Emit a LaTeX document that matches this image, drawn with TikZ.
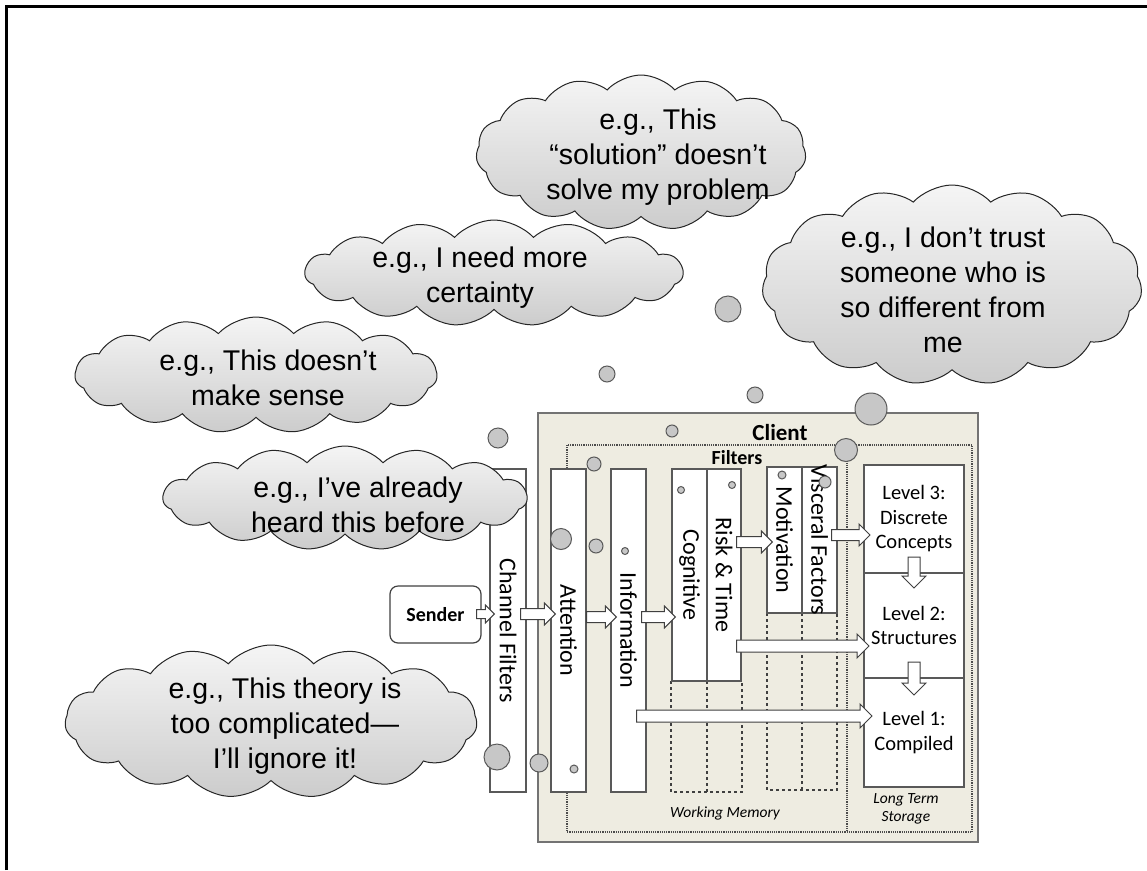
\documentclass[tikz,border=0pt]{standalone}
\usepackage{fontspec}
\usetikzlibrary{calc, positioning, shapes.symbols}

\newfontfamily\cloudfont{Liberation Sans}
\newfontfamily\boxfont{Carlito}
\definecolor{clientbg}{HTML}{EEECE1}

\begin{document}
\begin{tikzpicture}[x=1pt, y=-1pt,
  thought/.style = {cloud, cloud puffs=15, cloud puff arc=95, cloud ignores aspect,
    draw=black!85, line width=1pt, top color=black!4, bottom color=black!20, inner sep=0pt},
  thoughttext/.style = {align=center, font=\cloudfont\fontsize{28.5}{35}\selectfont},
  bubble/.style = {circle, draw=black!65, fill=black!22, line width=1pt, inner sep=0pt},
  colbox/.style = {draw=black!65, fill=white, line width=1.2pt, inner sep=0pt},
  coltext/.style = {rotate=-90, font=\boxfont\fontsize{24}{28}\selectfont},
  levelbox/.style = {draw=black!65, fill=white, line width=1.2pt, outer sep=0pt,
    minimum width=100pt, align=center, font=\boxfont\fontsize{20.5}{24.5}\selectfont},
  blockarrow/.style = {draw=black!75, fill=white, line width=1pt},
  fatright/.style = {to path={let \p1=(\tikztostart), \p2=(\tikztotarget) in
    (\x1,\y2+#1) -- (\x2-2*#1,\y2+#1) -- (\x2-2*#1,\y2+2*#1) -- (\x2,\y2)
    -- (\x2-2*#1,\y2-2*#1) -- (\x2-2*#1,\y2-#1) -- (\x1,\y2-#1) -- cycle}},
  fatright/.default = 5.5pt,
  fatdown/.style = {to path={let \p1=(\tikztostart), \p2=(\tikztotarget) in
    (\x2+#1,\y1) -- (\x2+#1,\y2+2*#1) -- (\x2+2*#1,\y2+2*#1) -- (\x2,\y2)
    -- (\x2-2*#1,\y2+2*#1) -- (\x2-#1,\y2+2*#1) -- (\x2-#1,\y1) -- cycle}},
  fatdown/.default = 6pt
]
\useasboundingbox (0,0) rectangle (1147,870);
\draw[line width=3pt] (6,870) -- (6,6) -- (1147,6);

% client
\draw[draw=black!55, fill=clientbg, line width=1.5pt] (538,413) rectangle (978,842);
\draw[black!70, densely dotted, line width=1.2pt] (567,445) rectangle (972,832);
\draw[black!70, densely dotted, line width=1.2pt] (847,445) -- (847,832);
\node[font=\boxfont\bfseries\fontsize{23}{27}\selectfont] (cli) at (780,433) {Client};
\node[font=\boxfont\bfseries\fontsize{20}{24}\selectfont] (fil) at (737,458) {Filters};

\draw[black!75, dashed, line width=1.2pt] (671,681) rectangle (742,792) (707,681) -- (707,792);
\draw[black!75, dashed, line width=1.2pt] (767,613) rectangle (837,790) (802,613) -- (802,790);

% filter columns
\node[colbox, minimum width=36pt, minimum height=323pt] (chf) at (508,630.5) {};
\node[coltext] at (chf) {Channel Filters};
\node[colbox, minimum width=35pt, minimum height=323pt] (att) at (568.5,630.5) {};
\node[coltext] at (att) {Attention};
\node[colbox, minimum width=35pt, minimum height=323pt] (inf) at (628.5,630.5) {};
\node[coltext] at (inf) {Information};
\node[colbox, minimum width=35pt, minimum height=212pt] (cog) at (689.5,575) {};
\node[coltext] at (cog) {Cognitive};
\node[colbox, minimum width=34pt, minimum height=212pt] (risk) at (724,575) {};
\node[coltext] at (risk) {Risk \& Time};
\node[colbox, minimum width=35pt, minimum height=146pt] (mot) at (784.5,540) {};
\node[coltext] at (mot) {Motivation};
\node[colbox, minimum width=35pt, minimum height=146pt] (visc) at (819.5,540) {};
\node[coltext] at (visc) {Visceral Factors};

% long term storage
\node[levelbox, minimum height=108pt] (lv3) at (914,519) {Level 3:\\Discrete\\Concepts};
\node[levelbox, minimum height=105pt, below=0pt of lv3] (lv2) {Level 2:\\Structures};
\node[levelbox, minimum height=109pt, below=0pt of lv2] (lv1) {Level 1:\\Compiled};

\node[draw=black!75, fill=white, rounded corners=8pt, line width=1.2pt,
  minimum width=91pt, minimum height=57pt,
  font=\boxfont\bfseries\fontsize{20}{24}\selectfont] (snd) at (435.5,614.5) {Sender};

\node[font=\boxfont\itshape\fontsize{15.5}{18}\selectfont] (wm) at (725,813) {Working Memory};
\node[align=center, font=\boxfont\itshape\fontsize{15.5}{18}\selectfont] (lts) at (906,809) {Long Term\\Storage};

% block arrows
\draw[blockarrow, fatright=4.5pt] ([xshift=-5pt]snd.east) to ([xshift=5pt, yshift=16.5pt]chf.west);
\draw[blockarrow, fatright] ([xshift=-6pt]chf.east) to ([xshift=5pt, yshift=16.5pt]att.west);
\draw[blockarrow, fatright] (att.east) to ([xshift=6pt, yshift=13.5pt]inf.west);
\draw[blockarrow, fatright] ([xshift=-5pt]inf.east) to ([xshift=4pt, yshift=-42pt]cog.west);
\draw[blockarrow, fatright] ([xshift=-5pt]risk.east) to ([xshift=6pt, yshift=-2pt]mot.west);
\draw[blockarrow, fatright] ([xshift=-6pt]visc.east) to ([xshift=6pt, yshift=-16pt]lv3.west);
\draw[blockarrow, fatright=6pt] ([xshift=-5pt]risk.east) to ([xshift=5pt, yshift=-20.5pt]lv2.west);
\draw[blockarrow, fatright=6pt] ([xshift=-10pt]inf.east) to ([xshift=8pt, yshift=16.5pt]lv1.west);
\draw[blockarrow, fatdown] ([yshift=16pt]lv3.south) to ([yshift=-15pt]lv2.north);
\draw[blockarrow, fatdown] ([yshift=16pt]lv2.south) to ([yshift=-17pt]lv1.north);

% thought clouds
\node[thought, minimum width=330pt, minimum height=155pt] (th1) at (641,152.5) {};
\node[thoughttext] at ([xshift=17pt, yshift=-4.5pt]th1) {e.g., This\\“solution” doesn’t\\solve my problem};
\node[thought, minimum width=378pt, minimum height=106pt] (th2) at (494,273) {};
\node[thoughttext] at ([xshift=-14pt, yshift=-4.5pt]th2) {e.g., I need more\\certainty};
\node[thought, minimum width=362pt, minimum height=116pt] (th3) at (256,375) {};
\node[thoughttext] at ([xshift=12pt, yshift=-2.5pt]th3) {e.g., This doesn’t\\make sense};
\node[thought, minimum width=364pt, minimum height=104pt] (th4) at (345,498) {};
\node[thoughttext] at ([xshift=13pt, yshift=-7pt]th4) {e.g., I’ve already\\heard this before};
\node[thought, minimum width=412pt, minimum height=153pt] (th5) at (271,721.5) {};
\node[thoughttext] at ([xshift=14pt, yshift=-4.5pt]th5) {e.g., This theory is\\too complicated—\\I’ll ignore it!};
\node[thought, minimum width=380pt, minimum height=200pt] (th6) at (952,285) {};
\node[thoughttext] at ([xshift=-9pt, yshift=-4.5pt]th6) {e.g., I don’t trust\\someone who is\\so different from\\me};

% bubbles
\foreach \bx/\by/\br [count=\i] in {728/309/13, 607/374/8, 755/395/8, 871/409/16,
    672/431/6, 846/450/11.5, 498/438/10, 594/464/7, 561/539/10.5, 596/546/7,
    625/551/3.5, 681/490/3.5, 732/485/3.5, 782/475/4, 825/482/6,
    497/757/13, 539/763/9, 574/769/4}
  \node[bubble, minimum size=2*\br] (bub\i) at (\bx,\by) {};
\end{tikzpicture}
\end{document}
